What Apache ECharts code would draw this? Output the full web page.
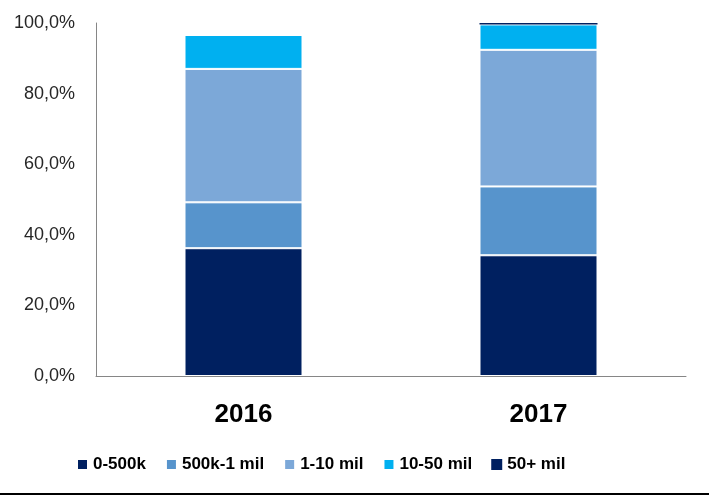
<!DOCTYPE html>
<html><head><meta charset="utf-8">
<script src="https://cdn.jsdelivr.net/npm/echarts@6/dist/echarts.min.js"></script>
<style>html,body{margin:0;padding:0;background:#fff}#c{width:709px;height:496px}</style>
</head><body><div id="c"></div>
<script>
const categories = ['2016', '2017'];
const seriesNames = ['0-500k', '500k-1 mil', '1-10 mil', '10-50 mil', '50+ mil'];
const v0_500k = [36.2, 34.2];
const v500k_1mil = [13.0, 19.5];
const v1_10mil = [37.8, 38.7];
const v10_50mil = [9.6, 7.2];
const v50plus = [0.0, 0.4];
const yTicks = [0, 20, 40, 60, 80, 100];

const colors = ['#002060', '#5794CC', '#7CA8D8', '#00B0F0', '#002060'];
const values = [v0_500k, v500k_1mil, v1_10mil, v10_50mil, v50plus];

const chart = echarts.init(document.getElementById('c'));
chart.setOption({
  animation: false,
  backgroundColor: '#fff',
  grid: { left: 96, right: 23, top: 23, bottom: 120 },
  legend: {
    left: 71, top: 451,
    itemWidth: 11, itemHeight: 11, itemGap: 19,
    icon: 'rect',
    textStyle: { fontFamily: 'Liberation Sans', fontWeight: 'bold', fontSize: 17, color: '#000' },
    data: seriesNames
  },
  xAxis: {
    type: 'category', data: categories,
    axisLine: { lineStyle: { color: '#868686', width: 1 } },
    axisTick: { show: false },
    axisLabel: { fontFamily: 'Liberation Sans', fontWeight: 'bold', fontSize: 26, color: '#000', margin: 26 }
  },
  yAxis: {
    type: 'value', min: yTicks[0], max: yTicks[yTicks.length - 1], interval: 20,
    axisLine: { show: true, lineStyle: { color: '#868686', width: 1 } },
    axisTick: { show: false },
    splitLine: { show: false },
    axisLabel: {
      fontFamily: 'Liberation Sans', fontSize: 18, color: '#262626', margin: 21,
      formatter: v => v.toFixed(1).replace('.', ',') + '%'
    }
  },
  graphic: [{ type: 'rect', left: 0, top: 493, shape: { width: 709, height: 2 }, style: { fill: '#000' } }],
  series: seriesNames.map((n, i) => ({
    name: n, type: 'bar', stack: 'total', barWidth: 118,
    data: values[i],
    itemStyle: { color: colors[i], borderColor: '#fff', borderWidth: i === 4 ? 0 : 1 }
  }))
});
</script></body></html>
